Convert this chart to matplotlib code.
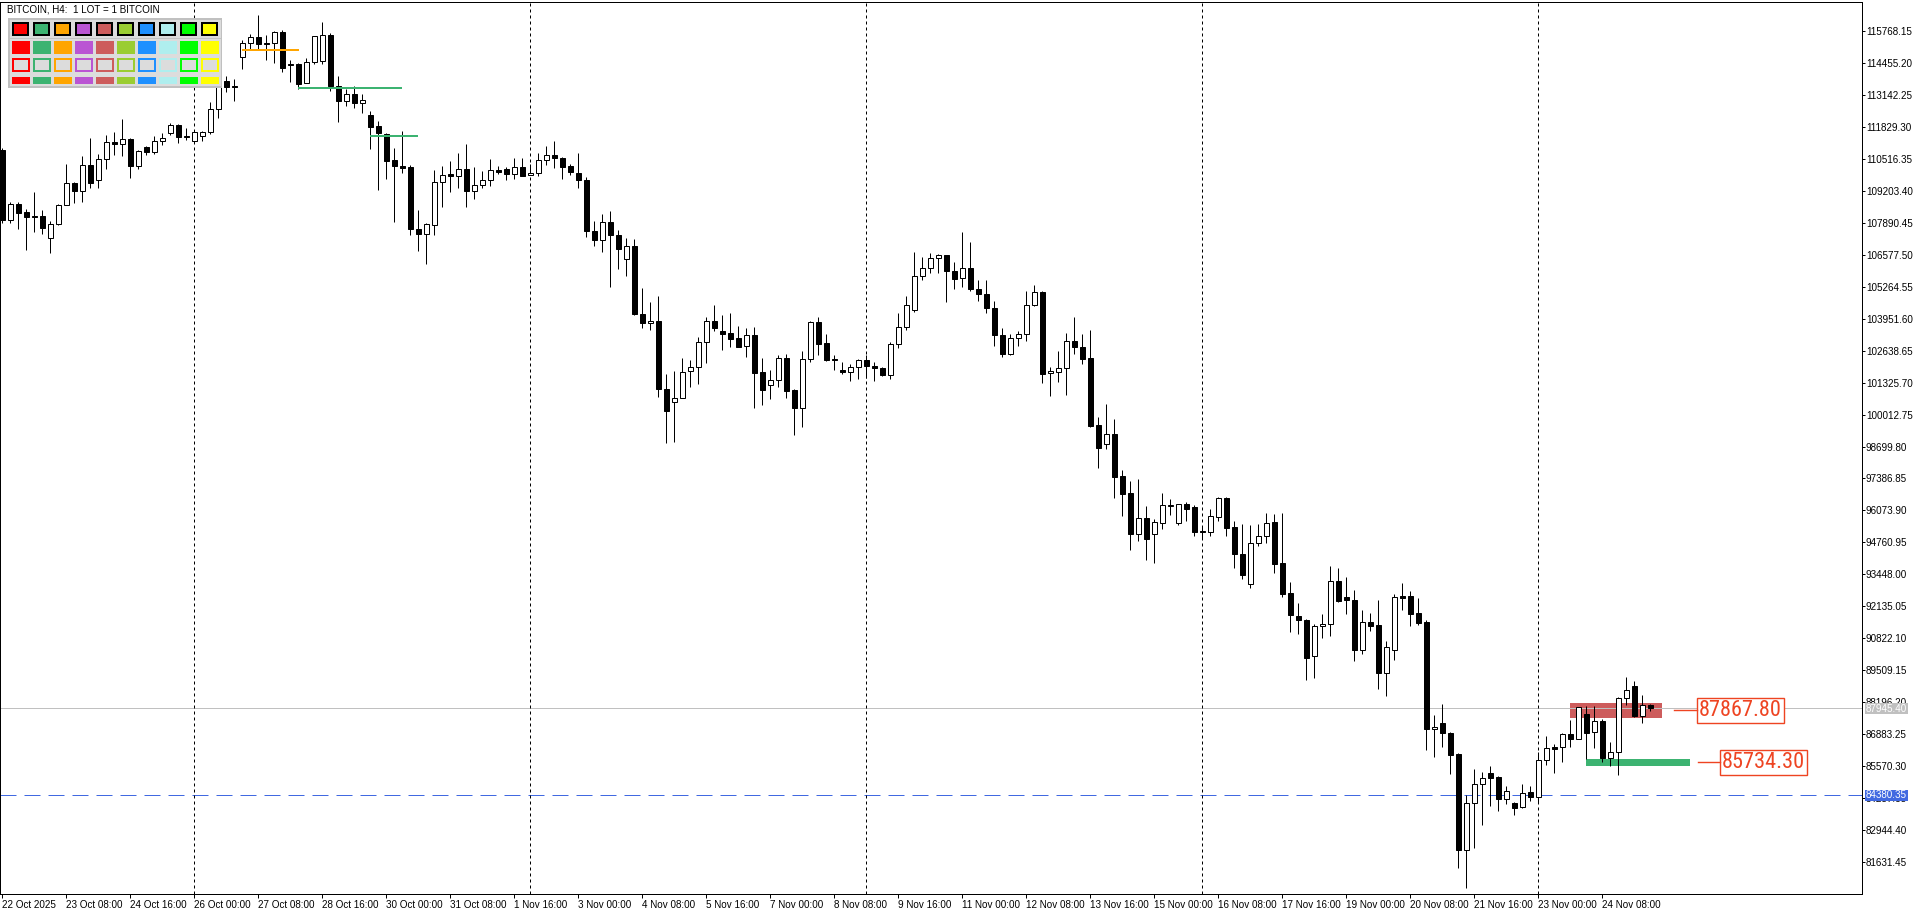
import matplotlib
matplotlib.use("Agg")
import matplotlib.pyplot as plt
from matplotlib.patches import Rectangle
from matplotlib import font_manager
import numpy as np
import pandas as pd

plt.rcParams['font.family'] = ['Liberation Sans', 'DejaVu Sans']

# ---- data (H4 candles) ----
start_time = '2025-10-22 00:00'
opens = [110868, 108022, 108651, 108323, 108186, 108186, 107283, 107857, 108637, 109541,
         109212, 110280, 109664, 110526, 111224, 111142, 111348, 110239, 111019, 110814,
         111265, 111594, 111922, 111471, 111265, 111471, 111635, 112579, 113729, 113524,
         114715, 115289, 115536, 115289, 115289, 115741, 114427, 114427, 113647, 114509,
         114550, 115600, 113500, 112900, 113200, 112800, 112300, 111855, 111526, 110459,
         110212, 110171, 107653, 107448, 107817, 109569, 109884, 109815, 110116, 109199,
         109459, 109665, 110075, 110116, 109911, 110199, 109870, 109952, 110486, 110691,
         110568, 110212, 109952, 109665, 107571, 107201, 107940, 107406, 106421, 106955,
         104162, 103779, 103875, 101042, 100508, 100686, 101808, 101973, 102999, 103875,
         103437, 103355, 103150, 102849, 103273, 101754, 101247, 101452, 102356, 101014,
         100262, 102301, 103807, 102944, 102287, 101836, 101767, 101973, 102233, 102027,
         101945, 101644, 102931, 103629, 104327, 105723, 106051, 106462, 106558, 105928,
         105641, 106051, 105189, 104984, 104409, 103300, 102520, 103177, 103341, 104532,
         105066, 101699, 101767, 101945, 103054, 102808, 102329, 99578, 98784, 99208,
         97470, 96772, 95116, 95745, 95116, 95567, 96265, 95567, 96334, 96211,
         95211, 95198, 95814, 96580, 95389, 94281, 93062, 94718, 95006, 95581,
         93897, 92666, 91721, 91557, 90079, 91311, 91393, 93158, 92515, 92378,
         90352, 91475, 91352, 89408, 90325, 92542, 92542, 91844, 91475, 87081,
         87327, 86917, 86055, 82113, 84043, 84823, 85275, 85111, 84207, 84043,
         83879, 84495, 84289, 85809, 86342, 86342, 86890, 86698, 87697, 86958,
         87424, 85918, 86137, 88354, 88861, 87643, 88067]
highs = [110950, 108733, 108733, 108460, 109171, 108432, 107967, 108679, 110321, 109568,
         110622, 111361, 110731, 111512, 111621, 112169, 111375, 110882, 111046, 111471,
         111594, 111991, 111964, 111772, 111676, 111676, 112867, 113934, 113934, 113811,
         115413, 115659, 116439, 115618, 115768, 115823, 114591, 114468, 114673, 115577,
         116130, 115700, 113900, 113400, 113500, 113200, 112500, 112060, 111595, 110979,
         111649, 110253, 108406, 107899, 110048, 110212, 110445, 110746, 111116, 110171,
         110007, 110500, 110212, 110185, 110541, 110541, 110294, 110746, 111033, 111239,
         110595, 110322, 110746, 109774, 107954, 108269, 108365, 107584, 107283, 107242,
         105203, 104655, 104874, 101658, 101822, 102356, 102233, 103218, 104039, 104532,
         104121, 104203, 103642, 103588, 103601, 102328, 101836, 102451, 102493, 101042,
         102616, 103848, 104012, 103314, 102479, 102164, 102082, 102315, 102479, 102164,
         101973, 103013, 104176, 104874, 106681, 106475, 106640, 106626, 106585, 106270,
         107502, 107092, 105531, 105531, 104669, 103561, 103341, 103437, 105107, 105353,
         105093, 101959, 102616, 103355, 104039, 103314, 103479, 99920, 100440, 99824,
         97730, 97265, 97360, 96252, 95704, 96785, 96525, 96348, 96416, 96293,
         95400, 96129, 96608, 96608, 95636, 95512, 95471, 95512, 95964, 95923,
         95964, 93117, 92255, 91625, 91393, 91803, 93774, 93692, 93322, 92789,
         91967, 91844, 92378, 90695, 92624, 93076, 92748, 92460, 91557, 87656,
         88108, 86958, 86123, 84371, 85439, 85330, 85576, 85166, 84755, 84111,
         84823, 84755, 86151, 86808, 86479, 86945, 87478, 88012, 88040, 88040,
         87492, 86548, 88423, 89217, 89052, 88491, 88135]
lows = [107900, 107885, 107652, 106790, 107515, 107447, 106653, 107789, 108610, 108706,
        108747, 109336, 109336, 110116, 110690, 110649, 109746, 110116, 110690, 110731,
        111101, 111512, 111183, 111306, 111183, 111265, 111553, 112210, 113277, 112908,
        114222, 115043, 115002, 114591, 114468, 114099, 113688, 113401, 113620, 114427,
        114400, 113300, 112030, 112700, 112600, 112400, 110910, 109227, 109678, 107927,
        109938, 107379, 106736, 106202, 107379, 108542, 109158, 109309, 108542, 108857,
        109323, 109405, 109884, 109651, 109692, 109815, 109843, 109815, 110267, 110144,
        109692, 109856, 109323, 107311, 106941, 106695, 105257, 105997, 105709, 104108,
        103574, 103492, 100741, 98824, 98893, 100672, 101151, 101288, 102137, 103451,
        102671, 102794, 102794, 102383, 100262, 100398, 100659, 101151, 100700, 99180,
        99481, 102178, 102465, 102219, 101849, 101658, 101398, 101466, 101534, 101398,
        101589, 101480, 102753, 103478, 104231, 105545, 105832, 105832, 104642, 105176,
        105258, 105093, 104683, 104190, 102835, 102383, 102452, 102835, 103040, 104491,
        101316, 100782, 101357, 100823, 102507, 102096, 99509, 97826, 98606, 96594,
        95855, 94459, 94828, 94048, 93925, 95321, 95896, 95485, 95636, 95034,
        94950, 95034, 95649, 95034, 93720, 93268, 92898, 94623, 94746, 93514,
        92529, 91091, 91009, 89121, 89203, 90818, 90900, 92323, 91803, 89901,
        90161, 91133, 88751, 88463, 89942, 91995, 91338, 91379, 86246, 85958,
        86369, 85261, 81401, 80552, 82195, 83167, 83947, 83742, 84002, 83550,
        83851, 84153, 84057, 85603, 85302, 85754, 86370, 86671, 85877, 86329,
        85754, 85590, 85220, 88067, 87574, 87355, 87848]
closes = [107994, 108651, 108309, 108145, 108145, 107679, 107857, 108637, 109541, 109212,
          110280, 109541, 110526, 111224, 111142, 111348, 110239, 110855, 110814, 111265,
          111389, 111922, 111430, 111430, 111635, 111635, 112579, 113729, 113483, 113483,
          115289, 115536, 115248, 115248, 115741, 114263, 114386, 113606, 114509, 115577,
          115600, 113500, 112900, 113200, 112800, 112950, 111827, 111581, 110431, 110226,
          110144, 107639, 107434, 107858, 109583, 109870, 109815, 110116, 109199, 109459,
          109665, 110075, 109980, 109897, 110199, 109815, 109952, 110486, 110691, 110568,
          110199, 109980, 109651, 107557, 107201, 107940, 107406, 106818, 106955, 104149,
          103779, 103861, 101042, 100166, 100713, 101781, 101973, 103013, 103875, 103574,
          103327, 103122, 102794, 103273, 101726, 101028, 101452, 102356, 100987, 100289,
          102315, 103807, 102917, 102246, 102260, 101767, 101986, 102274, 102014, 101931,
          101630, 102931, 103629, 104532, 105723, 106051, 106462, 106558, 105915, 105586,
          106051, 105162, 104984, 104395, 103287, 102520, 103177, 103341, 104532, 105066,
          101685, 101822, 101945, 103054, 102808, 102301, 99550, 98647, 99208, 97456,
          96758, 95116, 95745, 94910, 95581, 96279, 96293, 96320, 96142, 95198,
          95170, 95841, 96580, 95348, 94294, 93432, 94732, 95006, 95540, 93884,
          92652, 91790, 91584, 90024, 91311, 91393, 93158, 92365, 92378, 90352,
          91475, 91311, 89408, 90448, 92501, 92488, 91831, 91461, 87081, 87163,
          86917, 86041, 82113, 84043, 84823, 85070, 85070, 84207, 84536, 83865,
          84481, 84317, 85809, 86301, 86288, 86876, 86698, 87985, 86945, 87424,
          85918, 86137, 88354, 88683, 87629, 88067, 87945.40]

# price scale of the right axis
tick_top = 115768.15
tick_step = 1312.95
n_ticks = 27
y_limits = (80317, 116960)
bid_price = 87945.40
ask_line = 84380.35

# indicator levels (price, first bar, last bar, colour)
level_prices = [114987, 113427, 111456]
level_start = [30.0, 36.9, 46.0]
level_end = [37.1, 49.9, 51.9]
level_colors = ['#FFA500', '#3CB371', '#3CB371']

# zones
zone_top = [88163, 85880]
zone_bottom = [87561, 85571]
zone_start = [195.96, 197.96]
zone_end = [207.46, 210.96]
zone_colors = ['#CD5C5C', '#3CB371']
zone_labels = ['87867.80', '85734.30']
zone_label_prices = [87867.80, 85734.30]
label_line_start = [209.0, 211.9]
label_box_left = [211.8, 214.7]
label_color = '#EE4422'

palette = ['#FF0000', '#3CB371', '#FFA500', '#BA55D3', '#CD5C5C',
           '#9ACD32', '#1E90FF', '#AFEEEE', '#00FF00', '#FFFF00']

W, H = 1920, 915
PX = 0.72  # one pixel in points

# narrow face for the big price labels if one is installed
installed = {f.name for f in font_manager.fontManager.ttflist}
if 'Liberation Sans Narrow' in installed:
    label_family, label_size = 'Liberation Sans Narrow', 17
elif 'Roboto Condensed' in installed:
    label_family, label_size = 'Roboto Condensed', 16
else:
    label_family, label_size = 'Liberation Sans', 14.3

fig = plt.figure(figsize=(W / 100, H / 100), dpi=100)
fig.patch.set_facecolor('white')
ax = fig.add_axes([0, (H - 894) / H, 1862 / W, (894 - 2) / H])

n = len(opens)
x = np.arange(n)
o = np.array(opens, dtype=float)
c = np.array(closes, dtype=float)
hi = np.array(highs, dtype=float)
lo = np.array(lows, dtype=float)
up = c >= o

ax.set_xlim((0 - 2.3) / 8, (1862 - 2.3) / 8)
ax.set_ylim(*y_limits)

# zones behind everything
for zt, zb, zs, ze, zc in zip(zone_top, zone_bottom, zone_start, zone_end, zone_colors):
    ax.add_patch(Rectangle((zs, zb), ze - zs, zt - zb, facecolor=zc, edgecolor='none', zorder=1))

# bid / ask lines
ax.axhline(bid_price, color='#C0C0C0', lw=PX, zorder=1.5)
ax.axhline(ask_line, color='#4169E1', lw=PX, ls=(0, (16, 8)), zorder=1.5)

# weekly separators (Sunday 00:00)
times = pd.date_range(start_time, periods=n, freq='4h')
sep = x[(times.dayofweek == 6) & (times.hour == 0)]
for s in sep:
    ax.axvline(s, color='black', lw=PX, ls=(0, (3, 3)), zorder=1.6)

# candles
ax.vlines(x, lo, hi, color='black', lw=PX, zorder=2)
ax.bar(x, np.abs(c - o), bottom=np.minimum(o, c), width=0.56,
       color=np.where(up, 'white', 'black'), edgecolor='black', linewidth=PX, zorder=3)

# indicator levels
for lp, ls_, le, lc in zip(level_prices, level_start, level_end, level_colors):
    ax.hlines(lp, ls_, le, color=lc, lw=2 * PX, zorder=4)

# axes styling
for sp in ax.spines.values():
    sp.set_linewidth(PX)
    sp.set_color('black')

yt = [tick_top - k * tick_step for k in range(n_ticks)]
ax.set_yticks(yt)
ax.set_yticklabels([f'{v:.2f}' for v in yt])
ax.yaxis.tick_right()
ax.tick_params(axis='y', direction='out', length=2.2, width=PX, pad=0.6, labelsize=7.1)

xt = x[::8]
xl = [times[i].strftime('%-d %b %Y') if i == 0 else times[i].strftime('%-d %b %H:%M') for i in xt]
ax.set_xticks(xt)
ax.set_xticklabels(xl)
ax.tick_params(axis='x', direction='out', length=3, width=PX, pad=1.5, labelsize=7.1)
for lab in ax.get_xticklabels():
    lab.set_ha('left')

# overlay in pixel units (origin top-left)
ov = fig.add_axes([0, 0, 1, 1])
ov.set_xlim(0, W)
ov.set_ylim(H, 0)
ov.axis('off')
ov.set_zorder(5)


def to_px(xv, yv, trans):
    dx, dy = trans.transform((xv, yv))
    return dx, H - dy


def box(x0, y0, w, h, fc, ec='none', lw=0.0):
    ov.add_patch(Rectangle((x0, y0), w, h, facecolor=fc, edgecolor=ec, linewidth=lw))


# zone labels
for txt, lp, l0, bl in zip(zone_labels, zone_label_prices, label_line_start, label_box_left):
    x0, y0 = to_px(l0, lp, ax.transData)
    x1, _ = to_px(bl, lp, ax.transData)
    ov.plot([x0, x1], [y0, y0], color=label_color, lw=1.4 * PX)
    box(x1, y0 - 12.5, 87.6, 25, 'white', label_color, 1.4 * PX)
    ov.text(x1 + 43.8, y0 + 0.5, txt, ha='center', va='center', fontsize=label_size,
            color=label_color, family=label_family)

# price tags on the axis
for price, fc in [(bid_price, '#C0C0C0'), (ask_line, '#4169E1')]:
    _, py = to_px(1.0, price, ax.get_yaxis_transform())
    box(1864.5, py - 5.5, 43.5, 11, fc)
    ov.text(1865.5, py + 0.3, f'{price:.2f}', ha='left', va='center', fontsize=7.1, color='white')

# title and colour panel
ov.text(7, 9, 'BITCOIN, H4:  1 LOT = 1 BITCOIN', ha='left', va='center', fontsize=7.1, color='black')
box(8, 17.5, 214, 70, '#C0C0C0')
box(10, 19.5, 210.5, 66, '#DCDCDC')
box(10, 37.5, 210.5, 1.6, '#C4C4C4')
for k, col in enumerate(palette):
    xk = 12.3 + 21 * k
    box(xk + 1, 23, 15, 12, col, 'black', 2 * PX)
    box(xk, 40.7, 17.7, 13.6, col)
    box(xk + 1, 59, 15.7, 11.7, '#DCDCDC', col, 2 * PX)
    box(xk, 77, 17.7, 7.3, col)

fig.savefig('out.png', dpi=100, facecolor='white')
